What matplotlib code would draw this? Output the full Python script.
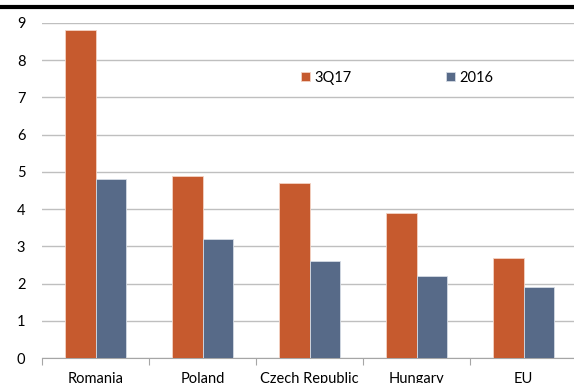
import matplotlib
matplotlib.use('Agg')
import matplotlib.pyplot as plt
import numpy as np

CATEGORIES = ['Romania', 'Poland', 'Czech Republic', 'Hungary', 'EU']
Q3_17 = [8.8, 4.9, 4.7, 3.9, 2.7]
Y2016 = [4.8, 3.2, 2.6, 2.2, 1.9]
SERIES = ['3Q17', '2016']

ORANGE = '#c65a2e'
SLATE = '#576a88'
GRID = '#bfbfbf'

plt.rcParams['font.family'] = ['Lato', 'DejaVu Sans']

fig = plt.figure(figsize=(5.74, 3.83), dpi=100)
ax = fig.add_axes([42 / 574, 25 / 383, 535 / 574, 335 / 383])

x = np.arange(len(CATEGORIES))
w = 0.285
ax.bar(x - w / 2, Q3_17, w, color=ORANGE, edgecolor='#f3d3c4', linewidth=0.6,
       label=SERIES[0], zorder=3)
ax.bar(x + w / 2, Y2016, w, color=SLATE, edgecolor='#d5dbe4', linewidth=0.6,
       label=SERIES[1], zorder=3)

ax.set_xlim(-0.5, 4.5)
ax.set_ylim(0, 9)
ax.set_yticks(range(0, 10))
ax.yaxis.grid(True, color=GRID, linewidth=1.0, zorder=0)
ax.tick_params(axis='y', length=0, pad=12, labelsize=10.5, colors='#000000')

ax.set_xticks(x)
ax.set_xticklabels(CATEGORIES)
ax.set_xticks(np.arange(len(CATEGORIES) + 1) - 0.5, minor=True)
ax.tick_params(axis='x', which='major', length=0, pad=10, labelsize=10.5)
ax.tick_params(axis='x', which='minor', length=5, color='#a6a6a6', width=0.8)

for s in ['top', 'right', 'left']:
    ax.spines[s].set_visible(False)
ax.spines['bottom'].set_color('#a6a6a6')
ax.spines['bottom'].set_linewidth(0.8)

ax.legend(ncol=2, frameon=False, loc='center left',
          bbox_to_anchor=(301 / 574, (383 - 78) / 383),
          bbox_transform=fig.transFigure, borderpad=0, borderaxespad=0,
          handlelength=0.6, handleheight=0.6, handletextpad=0.3,
          columnspacing=6.5, fontsize=10.5)

# heavy rule along the top
fig.add_artist(plt.Line2D([0, 1], [1 - 7 / 383, 1 - 7 / 383],
                          transform=fig.transFigure, color='black', linewidth=3))

fig.savefig('out.png', dpi=100)
